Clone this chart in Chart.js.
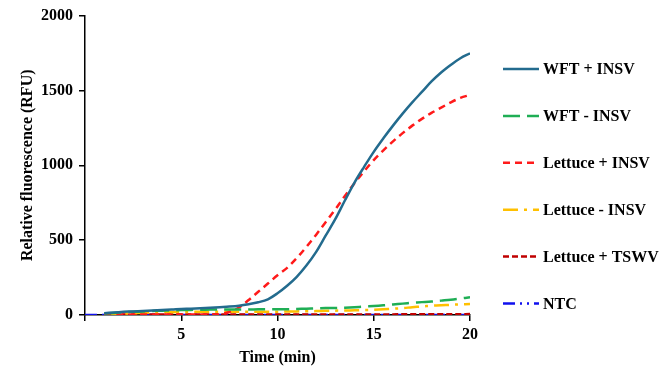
<!DOCTYPE html>
<html><head><meta charset="utf-8">
<script src="https://cdn.jsdelivr.net/npm/chart.js@4.4.1/dist/chart.umd.min.js"></script>
<style>html,body{margin:0;padding:0;background:#fff}#wrap{width:669px;height:381px}</style>
</head><body><div id="wrap"><canvas id="c" width="669" height="381"></canvas></div>
<script>
const time = [1,1.5,2,2.5,3,3.5,4,4.5,5,5.5,6,6.5,7,7.5,8,8.5,9,9.5,10,10.5,11,11.5,12,12.5,13,13.5,14,14.5,15,15.5,16,16.5,17,17.5,18,18.5,19,19.5,20];
const ntcTime = [0,1,1.5,2,2.5,3,3.5,4,4.5,5,5.5,6,6.5,7,7.5,8,8.5,9,9.5,10,10.5,11,11.5,12,12.5,13,13.5,14,14.5,15,15.5,16,16.5,17,17.5,18,18.5,19,19.5,20];
const wftPlusINSV = [12,17,21,24,27,30,33,36,40,42,45,48,52,56,62,72,85,105,145,195,255,330,420,530,640,765,885,990,1090,1180,1265,1345,1420,1490,1560,1620,1670,1715,1748];
const wftMinusINSV = [10,14,18,21,24,27,29,31,33,34,35,36,37,37,37,37,38,38,38,39,40,42,44,46,47,49,52,56,60,65,70,76,82,86,90,96,102,110,118];
const lettucePlusINSV = [3,3,3,3,3,3,3,3,3,3,3,3,4,20,50,100,155,210,265,315,380,455,535,620,705,795,880,960,1035,1100,1160,1215,1265,1310,1350,1385,1420,1450,1470];
const lettuceMinusINSV = [3,6,9,12,14,16,18,19,20,21,21,22,22,22,22,22,22,22,22,23,24,25,26,28,29,30,31,33,35,38,42,46,52,57,62,65,68,71,74];
const lettucePlusTSWV = [3,3,4,4,4,4,4,4,4,4,4,4,4,4,4,4,4,4,4,4,4,4,4,4,4,4,4,4,4,4,4,5,5,5,5,5,5,5,6];
const ntcValues = [0,0,0,0,0,0,0,0,0,0,0,0,0,0,0,0,0,0,0,0,0,0,0,0,0,0,0,0,0,0,0,0,0,0,0,0,0,0,0,0];
const seriesNames = ['WFT + INSV','WFT - INSV','Lettuce + INSV','Lettuce - INSV','Lettuce + TSWV','NTC'];
const xTicks = [5,10,15,20];
const yTicks = [0,500,1000,1500,2000];

function pts(xs, ys){ return xs.map((x,i)=>({x:x,y:ys[i]})); }
const FONT = '"Liberation Serif", "Times New Roman", serif';
const styles = [
  {c:'#236b8e', d:[]},
  {c:'#1fae55', d:[17,7]},
  {c:'#ff1a1a', d:[7,5]},
  {c:'#ffc000', d:[15,6,3,6]},
  {c:'#c00000', d:[6,3]},
  {c:'#1010ee', d:[12,5,2,5,2,5]}
];
const seriesData = [
  pts(time, wftPlusINSV), pts(time, wftMinusINSV), pts(time, lettucePlusINSV),
  pts(time, lettuceMinusINSV), pts(time, lettucePlusTSWV), pts(ntcTime, ntcValues)
];
const datasets = seriesNames.map((n,i)=>({
  label:n, data:seriesData[i], borderColor:styles[i].c, backgroundColor:styles[i].c,
  borderDash:styles[i].d, borderWidth:2.5, pointRadius:0, pointHoverRadius:0,
  tension:0.35, fill:false, borderCapStyle:'butt'
}));

const sideLegend = {
  id:'sideLegend',
  afterDraw(chart){
    const ctx = chart.ctx;
    ctx.save();
    ctx.font = 'bold 16px ' + FONT;
    ctx.textBaseline = 'middle';
    ctx.textAlign = 'left';
    chart.data.datasets.forEach((ds,i)=>{
      const y = 69 + i*46.9;
      ctx.strokeStyle = ds.borderColor;
      ctx.lineWidth = ds.borderWidth;
      ctx.setLineDash(ds.borderDash || []);
      ctx.lineCap = 'butt';
      ctx.beginPath(); ctx.moveTo(503, y); ctx.lineTo(539, y); ctx.stroke();
      ctx.setLineDash([]);
      ctx.fillStyle = '#000';
      ctx.fillText(ds.label, 543, y + 1);
    });
    ctx.restore();
  }
};

new Chart(document.getElementById('c'), {
  type:'line',
  data:{datasets:datasets},
  plugins:[sideLegend],
  options:{
    responsive:false, animation:false,
    layout:{padding:{left:13, right:199, top:15, bottom:23}},
    plugins:{ legend:{display:false}, tooltip:{enabled:false} },
    scales:{
      x:{type:'linear', min:0, max:20,
        afterBuildTicks:(s)=>{ s.ticks = [0].concat(xTicks).map(v=>({value:v})); },
        afterFit:(s)=>{ s.height = 43; },
        border:{color:'#000', width:1.5},
        grid:{drawOnChartArea:false, drawTicks:true, tickLength:6, color:'#000', tickColor:'#000', lineWidth:1.5},
        ticks:{color:'#000', padding:4, maxRotation:0, font:{family:FONT, size:16, weight:'bold'},
          callback:(v)=> v===0 ? '' : String(v)},
        title:{display:true, text:'Time (min)', color:'#000', padding:{top:0,bottom:-9}, font:{family:FONT, size:16, weight:'bold'}}
      },
      y:{type:'linear', min:0, max:2000,
        afterBuildTicks:(s)=>{ s.ticks = yTicks.map(v=>({value:v})); },
        afterFit:(s)=>{ s.width = 72; },
        border:{color:'#000', width:1.5},
        grid:{drawOnChartArea:false, drawTicks:true, tickLength:6, color:'#000', tickColor:'#000', lineWidth:1.5},
        ticks:{color:'#000', padding:6, font:{family:FONT, size:16, weight:'bold'}, callback:(v)=>String(v)},
        title:{display:true, text:'Relative fluorescence (RFU)', color:'#000', padding:{top:5,bottom:4}, font:{family:FONT, size:16, weight:'bold'}}
      }
    }
  }
});
</script></body></html>
